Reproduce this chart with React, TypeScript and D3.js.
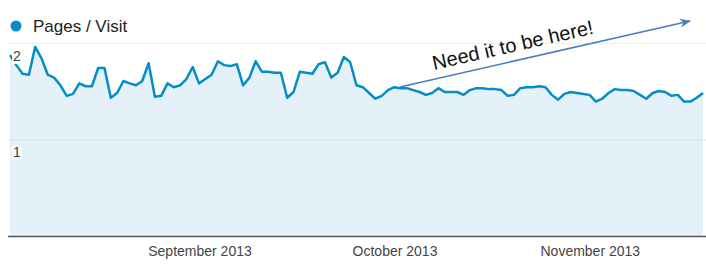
import React from "react";
import * as d3 from "d3";

const startDate = new Date(2013, 7, 2);
const endDate = new Date(2013, 10, 20);

const pagesPerVisit = [
  1.885, 1.78, 1.69, 1.68, 1.97, 1.85, 1.68, 1.65, 1.57, 1.46,
  1.48, 1.59, 1.56, 1.56, 1.75, 1.75, 1.44, 1.49, 1.615, 1.59,
  1.57, 1.615, 1.80, 1.45, 1.46, 1.59, 1.55, 1.57, 1.635, 1.76,
  1.59, 1.635, 1.68, 1.82, 1.78, 1.77, 1.79, 1.57, 1.65, 1.82,
  1.71, 1.71, 1.70, 1.70, 1.44, 1.50, 1.71, 1.70, 1.69, 1.79,
  1.81, 1.65, 1.70, 1.865, 1.81, 1.57, 1.55, 1.49, 1.43, 1.46,
  1.52, 1.55, 1.54, 1.54, 1.52, 1.50, 1.47, 1.49, 1.54, 1.50,
  1.50, 1.50, 1.47, 1.52, 1.54, 1.54, 1.53, 1.53, 1.52, 1.46,
  1.47, 1.54, 1.55, 1.55, 1.56, 1.55, 1.47, 1.42, 1.48, 1.50,
  1.49, 1.48, 1.47, 1.40, 1.43, 1.49, 1.53, 1.52, 1.52, 1.51,
  1.47, 1.43, 1.49, 1.51, 1.50, 1.46, 1.47, 1.40, 1.40, 1.44,
  1.49,
];

const yTicks = [1, 2];
const monthTicks = [new Date(2013, 8, 1), new Date(2013, 9, 1), new Date(2013, 10, 1)];
const monthLabels = ["September 2013", "October 2013", "November 2013"];
const seriesName = "Pages / Visit";
const annotationText = "Need it to be here!";

export default function App() {
  const days = d3.timeDay.range(startDate, d3.timeDay.offset(endDate, 1));
  const data = pagesPerVisit.map((v, i) => ({ date: days[i], value: v }));

  const x = d3.scaleTime().domain([startDate, endDate]).range([10, 703]);
  const y = d3.scaleLinear().domain([0, 2]).range([236, 44]);

  const line = d3
    .line<{ date: Date; value: number }>()
    .x((d) => x(d.date))
    .y((d) => y(d.value));
  const area = d3
    .area<{ date: Date; value: number }>()
    .x((d) => x(d.date))
    .y0(y(0))
    .y1((d) => y(d.value));

  const labelOffsets = [1, 7, 7];
  const font = "Liberation Sans, Arial, Helvetica, sans-serif";

  const ax0 = 400, ay0 = 87, ax1 = 690, ay1 = 21;
  const angle = (Math.atan2(ay1 - ay0, ax1 - ax0) * 180) / Math.PI;

  return (
    <svg
      width={706}
      height={265}
      style={{ position: "absolute", left: 0, top: 0, background: "#fff" }}
      fontFamily={font}
    >
      <defs>
        <marker id="arrow" viewBox="0 0 10 10" refX="9" refY="5" markerWidth="7" markerHeight="7" orient="auto">
          <path d="M0,1 L10,5 L0,9 L3,5 Z" fill="#4a7ebb" />
        </marker>
      </defs>

      {/* legend */}
      <circle cx={16} cy={26} r={5.5} fill="#058dc7" />
      <text x={33} y={32} fontSize={17} fill="#222">{seriesName}</text>

      {/* top grid */}
      <line x1={8} x2={706} y1={y(2) - 0.5} y2={y(2) - 0.5} stroke="#ececec" strokeWidth={1} />

      {/* area + line */}
      <path d={area(data) ?? ""} fill="#e5f1f8" />
      {yTicks
        .filter((t) => t === 1)
        .map((t) => (
          <line key={t} x1={9} x2={706} y1={y(t)} y2={y(t)} stroke="#d3e2ec" strokeWidth={1} />
        ))}
      <path d={line(data) ?? ""} fill="none" stroke="#058dc7" strokeWidth={2.5} strokeLinejoin="round" />

      {/* baseline */}
      <line x1={8} x2={706} y1={y(0) + 0.5} y2={y(0) + 0.5} stroke="#555" strokeWidth={1.5} />

      {/* y labels */}
      {yTicks.map((t) => (
        <g key={t}>
          <rect x={12} y={y(t) + 5} width={10} height={15} fill="#fff" opacity={t === 2 ? 0.95 : 0.6} />
          <text x={13} y={y(t) + 17} fontSize={14} fill="#444">
            {t}
          </text>
        </g>
      ))}

      {/* x labels */}
      {monthTicks.map((d, i) => (
        <text key={i} x={x(d) + labelOffsets[i]} y={256} fontSize={14} fill="#444" textAnchor="middle">
          {monthLabels[i]}
        </text>
      ))}

      {/* annotation */}
      <line x1={ax0} y1={ay0} x2={ax1} y2={ay1} stroke="#4a7ebb" strokeWidth={1.6} markerEnd="url(#arrow)" />
      <text
        x={434}
        y={70}
        fontSize={20}
        fill="#111"
        transform={`rotate(${angle} 434 70)`}
      >
        {annotationText}
      </text>
    </svg>
  );
}
